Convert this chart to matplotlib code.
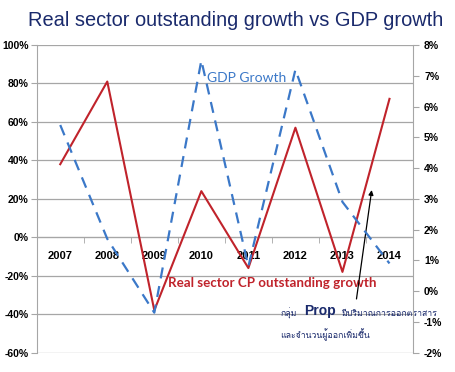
import matplotlib
matplotlib.use("Agg")
import matplotlib.pyplot as plt
from matplotlib import font_manager
from matplotlib.ft2font import FT2Font

years = ['2007', '2008', '2009', '2010', '2011', '2012', '2013', '2014']
cp_growth = [38, 81, -38, 24, -16, 57, -18, 72]      # left axis, %
gdp_growth = [5.4, 1.7, -0.7, 7.5, 0.8, 7.2, 2.9, 0.9]  # right axis, %
left_ticks = [-60, -40, -20, 0, 20, 40, 60, 80, 100]
right_ticks = [-2, -1, 0, 1, 2, 3, 4, 5, 6, 7, 8]


def find_thai_font():
    for f in font_manager.fontManager.ttflist:
        try:
            if 0x0E01 in FT2Font(f.fname).get_charmap():
                return f.name
        except Exception:
            pass
    return 'DejaVu Sans'


thai = find_thai_font()
arial = ['Liberation Sans', 'DejaVu Sans']
cal = ['Lato', 'Liberation Sans', 'DejaVu Sans']

red = '#C0232B'
blue = '#3B78C8'
navy = '#1A2A6C'
grid = '#A6A6A6'

fig = plt.figure(figsize=(4.55, 3.72), dpi=100)
ax = fig.add_axes([0.0807, 0.052, 0.827, 0.827])
ax2 = ax.twinx()

x = list(range(len(years)))
ax.plot(x, cp_growth, color=red, lw=1.5, zorder=3)
ax2.plot(x, gdp_growth, color=blue, lw=1.6, dashes=(5, 3.5), zorder=3)

ax.set_xlim(-0.5, 7.5)
ax.set_ylim(-60, 100)
ax2.set_ylim(-2, 8)
ax.set_yticks(left_ticks)
ax.set_yticklabels([f'{t}%' for t in left_ticks])
ax2.set_yticks(right_ticks)
ax2.set_yticklabels([f'{t}%' for t in right_ticks])

ax.yaxis.grid(True, color=grid, lw=0.9)
ax.set_axisbelow(True)

for a in (ax, ax2):
    a.spines['top'].set_visible(False)
ax.spines['bottom'].set_position(('data', 0))
ax.spines['bottom'].set_color(grid)
ax.spines['left'].set_color(grid)
ax.spines['right'].set_visible(False)
ax2.spines['left'].set_visible(False)
ax2.spines['bottom'].set_visible(False)
ax2.spines['right'].set_color(grid)

ax.set_xticks(x)
ax.set_xticklabels(years)
ax.set_xticks([i + 0.5 for i in x[:-1]], minor=True)
ax.tick_params(axis='x', which='major', length=0, pad=10)
ax.tick_params(axis='x', which='minor', length=4, color=grid)
ax.tick_params(axis='y', length=4, color=grid, pad=2)
ax2.tick_params(axis='y', length=4, color=grid, pad=4)

for lab in ax.get_xticklabels():
    lab.set_fontfamily(arial)
    lab.set_fontweight('bold')
    lab.set_fontsize(8)
for lab in ax.get_yticklabels() + ax2.get_yticklabels():
    lab.set_fontfamily(arial)
    lab.set_fontweight('bold')
    lab.set_fontsize(7.5)

fig.text(0.517, 0.946, 'Real sector outstanding growth vs GDP growth',
         ha='center', va='center', fontsize=14.4, color=navy, family=arial)

ax.text(3.97, 83, 'GDP Growth', color=blue, fontsize=10,
        ha='center', va='center', family=cal)
ax.text(4.5, -23.6, 'Real sector CP outstanding growth', color=red,
        fontsize=9.6, fontweight='bold', ha='center', va='center', family=cal)

ax.annotate('', xy=(6.63, 26), xytext=(6.29, -33.5),
            arrowprops=dict(arrowstyle='-|>', color='black', lw=0.9,
                            mutation_scale=7))
thai_fam = [thai, 'DejaVu Sans']
ax.text(4.68, -39.5, 'กลุ่ม', color=navy, fontsize=6.3, family=thai_fam,
        ha='left', va='center')
ax.text(5.18, -38.5, 'Prop', color=navy, fontsize=10, fontweight='bold',
        ha='left', va='center', family=arial)
ax.text(5.97, -39.5, 'มีปริมาณการออกตราสาร', color=navy, fontsize=6.3,
        family=thai_fam, ha='left', va='center')
ax.text(4.68, -50.7, 'และจำนวนผู้ออกเพิ่มขึ้น', color=navy, fontsize=6.3,
        family=thai_fam, ha='left', va='center')

fig.savefig('out.png', dpi=100)
